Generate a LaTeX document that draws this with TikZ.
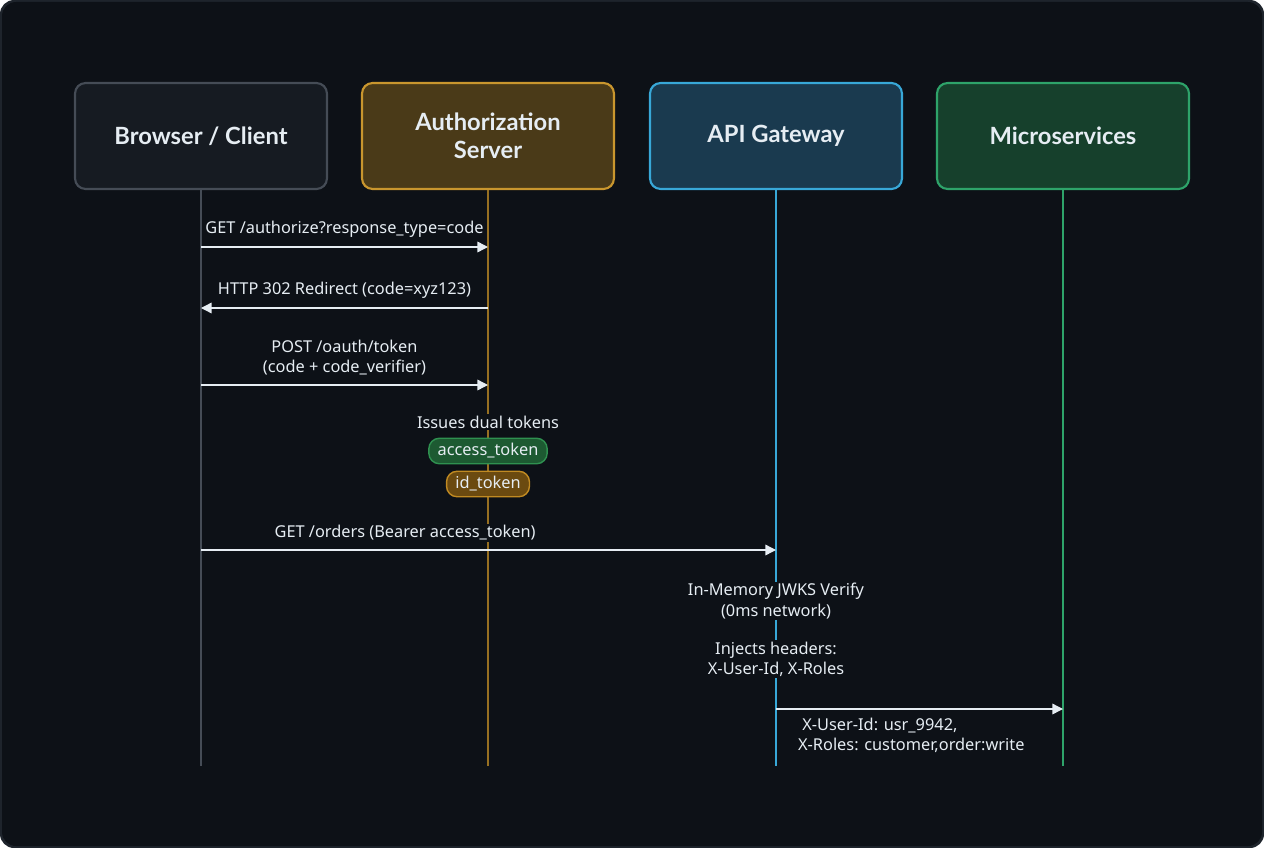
\documentclass[tikz,border=0pt]{standalone}
\usepackage{fontspec}
\setmainfont{Noto Sans}
\newfontfamily\headfont{Lato}
\usetikzlibrary{arrows.meta}
\definecolor{bg}{HTML}{0D1117}
\definecolor{frame}{HTML}{1E242C}
\definecolor{txt}{HTML}{E6EDF3}
\definecolor{brfill}{HTML}{161B22}\definecolor{brline}{HTML}{454C56}
\definecolor{aufill}{HTML}{4A3A18}\definecolor{auline}{HTML}{C9962E}
\definecolor{apfill}{HTML}{1A3A4F}\definecolor{apline}{HTML}{38A8D8}
\definecolor{mifill}{HTML}{16402C}\definecolor{miline}{HTML}{2EA36A}
\definecolor{pillg}{HTML}{1D5A32}\definecolor{pillgl}{HTML}{2F9150}
\definecolor{pilly}{HTML}{6B4A10}\definecolor{pillyl}{HTML}{C08A22}
\tikzset{
  actor/.style={draw,line width=1.2pt,rounded corners=6pt,minimum width=5.04cm,minimum height=2.12cm,
    text=txt,font=\headfont\fontsize{13.5}{16}\selectfont\bfseries,align=center},
  lbl/.style={text=txt,font=\fontsize{9.3}{11.5}\selectfont,align=center,fill=bg,inner sep=1pt},
  msg/.style={draw=txt,line width=0.8pt,-{Triangle[length=6pt,width=6pt]}},
  pill/.style={draw,line width=0.8pt,rounded corners=6pt,text=txt,font=\fontsize{9.3}{11}\selectfont,inner xsep=5pt,inner ysep=3pt}
}
\begin{document}
\begin{tikzpicture}[x=0.02cm,y=-0.02cm]
	\fill[frame,rounded corners=8pt] (0,0) rectangle (1264,848);
	\fill[bg,rounded corners=8pt] (2,2) rectangle (1262,846);
	\useasboundingbox (0,0) rectangle (1264,848);
	
	\node[actor,draw=brline,fill=brfill] (browser) at (201,136) {Browser / Client};
	\node[actor,draw=auline,fill=aufill] (auth) at (488,136) {Authorization\\Server};
	\node[actor,draw=apline,fill=apfill] (api) at (776,136) {API Gateway};
	\node[actor,draw=miline,fill=mifill] (micro) at (1063,136) {Microservices};
	
	\coordinate (browserend) at (201,766);
	\coordinate (authend) at (488,766);
	\coordinate (apiend) at (776,766);
	\coordinate (microend) at (1063,766);
	\draw[brline,line width=1pt] (browser) -- (browserend);
	\draw[auline!75!black,line width=1pt] (auth) -- (authend);
	\draw[apline,line width=1pt] (api) -- (apiend);
	\draw[miline,line width=1pt] (micro) -- (microend);
	
	\coordinate (b1) at (201,247); \coordinate (a1) at (488,247);
	\coordinate (b2) at (201,308); \coordinate (a2) at (488,308);
	\coordinate (b3) at (201,385); \coordinate (a3) at (488,385);
	\coordinate (b4) at (201,550); \coordinate (g4) at (776,550);
	\coordinate (g5) at (776,709); \coordinate (m5) at (1063,709);
	
	\draw[msg] (b1) -- node[lbl,above=4pt] {GET /authorize?response\_type=code} (a1);
	\draw[msg] (a2) -- node[lbl,above=4pt] {HTTP 302 Redirect (code=xyz123)} (b2);
	\draw[msg] (b3) -- node[lbl,above=4pt] {POST /oauth/token\\(code + code\_verifier)} (a3);
	\draw[msg] (b4) -- node[lbl,above=4pt,pos=0.355] {GET /orders (Bearer access\_token)} (g4);
	\draw[msg] (g5) -- (m5);
	
	\node[lbl] (issues) at (488,422) {Issues dual tokens};
	\node[pill,draw=pillgl,fill=pillg] (access) at (488,451) {access\_token};
	\node[pill,draw=pillyl,fill=pilly] (idtok) at (488,484) {id\_token};
	
	\node[lbl] (verify) at (776,601) {In-Memory JWKS Verify\\(0ms network)};
	\node[lbl] (inject) at (776,659) {Injects headers:\\X-User-Id, X-Roles};
	\node[lbl,fill=none,align=left,anchor=north west] (headers) at (796,716) {\ X-User-Id: usr\_9942,\\X-Roles: customer,order:write};
	
\end{tikzpicture}
\end{document}
